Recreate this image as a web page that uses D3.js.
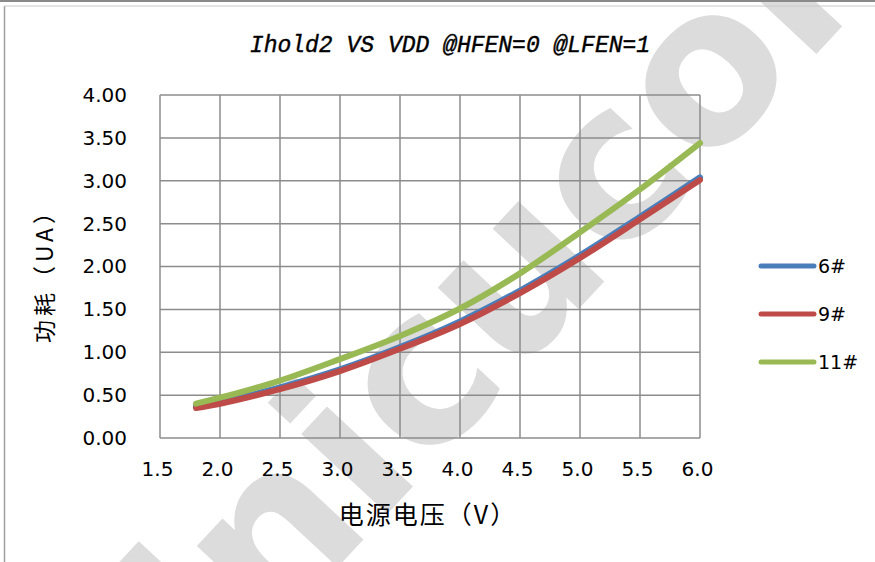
<!DOCTYPE html>
<html><head><meta charset="utf-8">
<script src="https://cdn.jsdelivr.net/npm/d3@7"></script>
<style>body{margin:0;background:#fff}svg{display:block}</style>
</head><body>
<svg id="c" width="875" height="562"></svg>
<script>
const voltages = [1.8, 2.0, 2.5, 3.0, 3.5, 4.0, 4.5, 5.0, 5.5, 6.0];
const s6  = [0.37, 0.42, 0.59, 0.80, 1.06, 1.36, 1.72, 2.13, 2.58, 3.04];
const s9  = [0.35, 0.40, 0.57, 0.78, 1.04, 1.33, 1.69, 2.10, 2.55, 3.01];
const s11 = [0.40, 0.47, 0.67, 0.92, 1.19, 1.51, 1.92, 2.40, 2.90, 3.44];
const seriesNames = ["6#", "9#", "11#"];
const seriesColors = ["#4a7ebb", "#be4b48", "#98b954"];
const xTicks = [1.5, 2.0, 2.5, 3.0, 3.5, 4.0, 4.5, 5.0, 5.5, 6.0];
const yTicks = [0, 0.5, 1, 1.5, 2, 2.5, 3, 3.5, 4];
const title = "Ihold2 VS VDD @HFEN=0 @LFEN=1";
const xTitle = "电源电压（V）";
const yTitle = "功耗（UA）";

const W = 875, H = 562;
const svg = d3.select("#c");
svg.append("defs").append("clipPath").attr("id","pageclip")
  .append("rect").attr("x",0).attr("y",0).attr("width",W).attr("height",H);

// watermark (clipped to page, as in the reference)
svg.append("g").attr("clip-path","url(#pageclip)")
  .append("text").attr("transform","translate(545,345) rotate(-47)")
  .attr("text-anchor","middle").attr("font-family","DejaVu Sans").attr("font-weight","bold")
  .attr("font-size",215).attr("fill","#dcdcdc").text("sinicucom");

// frame
svg.append("line").attr("x1",0).attr("x2",W).attr("y1",1).attr("y2",1).attr("stroke","#8a8a8a").attr("stroke-width",2);
svg.append("line").attr("x1",4.5).attr("x2",4.5).attr("y1",6).attr("y2",H).attr("stroke","#a0a0a0").attr("stroke-width",1.5);
svg.append("line").attr("x1",4).attr("x2",W).attr("y1",6).attr("y2",6).attr("stroke","#c8c8c8").attr("stroke-width",1);

const x = d3.scaleLinear().domain([1.5, 6.0]).range([160, 700]);
const y = d3.scaleLinear().domain([0, 4]).range([438, 95]);

const g = svg.append("g");
g.selectAll(".vg").data(xTicks).join("line")
  .attr("x1",d=>x(d)).attr("x2",d=>x(d)).attr("y1",y(4)).attr("y2",y(0))
  .attr("stroke","#8c8c8c").attr("stroke-width",1.5);
g.selectAll(".hg").data(yTicks).join("line")
  .attr("x1",x(1.5)).attr("x2",x(6)).attr("y1",d=>y(d)).attr("y2",d=>y(d))
  .attr("stroke","#8c8c8c").attr("stroke-width",1.5);

const yAxis = svg.append("g").attr("transform","translate(160,0)")
  .call(d3.axisLeft(y).tickValues(yTicks).tickFormat(d3.format(".2f")).tickSize(0).tickPadding(33));
yAxis.select(".domain").remove();
yAxis.selectAll("text").attr("font-family","DejaVu Sans").attr("font-size",20).attr("fill","#000");

const xAxis = svg.append("g").attr("transform","translate(-3,438)")
  .call(d3.axisBottom(x).tickValues(xTicks).tickFormat(d3.format(".1f")).tickSize(0).tickPadding(24));
xAxis.select(".domain").remove();
xAxis.selectAll("text").attr("font-family","DejaVu Sans").attr("font-size",20).attr("fill","#000");

const data = [s6, s9, s11];
const line = d3.line().x((d,i)=>x(voltages[i])).y(d=>y(d)).curve(d3.curveCatmullRom);
[0,1,2].forEach(k=>{
  svg.append("path").datum(data[k]).attr("d",line).attr("fill","none")
    .attr("stroke",seriesColors[k]).attr("stroke-width",6).attr("stroke-linecap","round");
});

svg.append("text").attr("x",450).attr("y",52).attr("text-anchor","middle")
  .attr("font-family","Liberation Mono").attr("font-style","italic").attr("font-size",23)
  .attr("fill","#000").attr("stroke","#000").attr("stroke-width",0.4).text(title);
svg.append("text").attr("x",428).attr("y",524).attr("text-anchor","middle")
  .attr("font-family","Noto Sans CJK SC").attr("font-size",25).attr("letter-spacing",2)
  .attr("fill","#000").text(xTitle);
svg.append("text").attr("transform","translate(53,270) rotate(-90)").attr("text-anchor","middle")
  .attr("font-family","Noto Sans CJK SC").attr("font-size",23).attr("letter-spacing",4)
  .attr("fill","#000").text(yTitle);

const lg = svg.append("g");
seriesNames.forEach((n,k)=>{
  const yy = 266 + k*48;
  lg.append("line").attr("x1",761).attr("x2",814).attr("y1",yy).attr("y2",yy)
    .attr("stroke",seriesColors[k]).attr("stroke-width",5).attr("stroke-linecap","round");
  lg.append("text").attr("x",818).attr("y",yy+7).attr("font-family","DejaVu Sans")
    .attr("font-size",19).attr("fill","#000").text(n);
});
</script>
</body></html>
